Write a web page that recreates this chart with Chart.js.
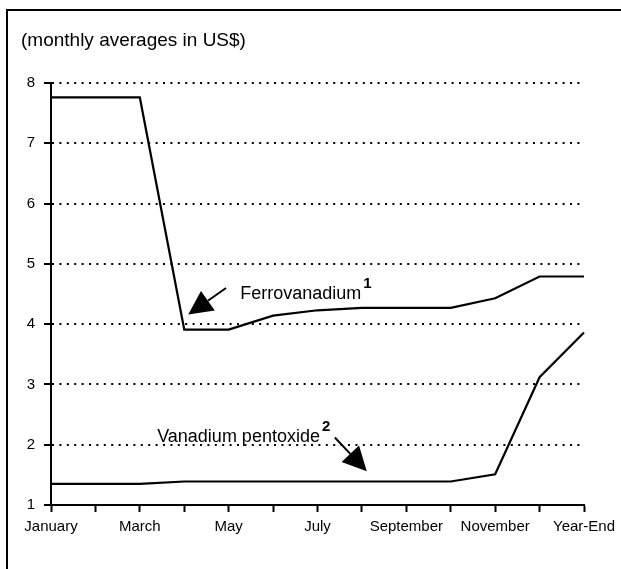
<!DOCTYPE html>
<html>
<head>
<meta charset="utf-8">
<script src="https://cdn.jsdelivr.net/npm/chart.js@4"></script>
<style>
  html, body { margin: 0; padding: 0; background: #fff; overflow: hidden; }
  #marco { position: absolute; left: 6px; top: 9px; width: 700px; height: 700px; border: 2px solid #000; }
  #grafica { position: absolute; left: 0; top: 0; }
</style>
</head>
<body>
<div id="marco"></div>
<canvas id="grafica" width="621" height="569"></canvas>
<script>
// Meses (se muestra solo uno de cada dos)
const meses = ['January', 'February', 'March', 'April', 'May', 'June', 'July',
  'August', 'September', 'October', 'November', 'December', 'Year-End'];

// Precios promedio mensuales en US$
const ferrovanadio = [7.76, 7.76, 7.76, 3.91, 3.91, 4.14, 4.23, 4.27, 4.27, 4.27, 4.43, 4.79, 4.79];
const pentoxido = [1.35, 1.35, 1.35, 1.39, 1.39, 1.39, 1.39, 1.39, 1.39, 1.39, 1.51, 3.12, 3.86];

const ticksY = [1, 2, 3, 4, 5, 6, 7, 8];

const fuente = '"Liberation Sans", Arial, sans-serif';

// Etiquetas con flecha, ancladas en coordenadas de datos
const notas = [
  { texto: 'Ferrovanadium', sup: '1', x: 4.26, y: 4.42, desde: [3.94, 4.60], hasta: [3.09, 4.16] },
  { texto: 'Vanadium pentoxide', sup: '2', x: 2.39, y: 2.04, desde: [6.39, 2.12], hasta: [7.11, 1.56] }
];

function flecha(ctx, x1, y1, x2, y2) {
  const ang = Math.atan2(y2 - y1, x2 - x1);
  const largo = 24, ancho = 12;
  const bx = x2 - largo * Math.cos(ang);
  const by = y2 - largo * Math.sin(ang);
  ctx.beginPath();
  ctx.moveTo(x1, y1);
  ctx.lineTo(bx, by);
  ctx.lineWidth = 2;
  ctx.stroke();
  ctx.beginPath();
  ctx.moveTo(x2, y2);
  ctx.lineTo(bx + ancho * Math.sin(ang), by - ancho * Math.cos(ang));
  ctx.lineTo(bx - ancho * Math.sin(ang), by + ancho * Math.cos(ang));
  ctx.closePath();
  ctx.fill();
}

const pluginNotas = {
  id: 'notas',
  afterDatasetsDraw(chart) {
    const ctx = chart.ctx;
    const sx = chart.scales.x;
    const sy = chart.scales.y;
    ctx.save();
    ctx.fillStyle = '#000';
    ctx.strokeStyle = '#000';
    // titulo
    ctx.font = '19px ' + fuente;
    ctx.textAlign = 'left';
    ctx.textBaseline = 'alphabetic';
    ctx.fillText('(monthly averages in US$)', 21, 46);

    notas.forEach(n => {
      const px = sx.getPixelForValue(n.x);
      const py = sy.getPixelForValue(n.y);
      ctx.font = '18px ' + fuente;
      ctx.fillText(n.texto, px, py);
      const w = ctx.measureText(n.texto).width;
      ctx.font = 'bold 15px ' + fuente;
      ctx.fillText(n.sup, px + w + 2, py - 11);
      flecha(ctx,
        sx.getPixelForValue(n.desde[0]), sy.getPixelForValue(n.desde[1]),
        sx.getPixelForValue(n.hasta[0]), sy.getPixelForValue(n.hasta[1]));
    });
    ctx.restore();
  }
};

const ctx = document.getElementById('grafica').getContext('2d');
new Chart(ctx, {
  type: 'line',
  data: {
    labels: meses,
    datasets: [{
      label: 'Ferrovanadium',
      data: ferrovanadio,
      borderColor: '#000',
      borderWidth: 2.2,
      pointRadius: 0,
      tension: 0,
      fill: false
    }, {
      label: 'Vanadium pentoxide',
      data: pentoxido,
      borderColor: '#000',
      borderWidth: 2.2,
      pointRadius: 0,
      tension: 0,
      fill: false
    }]
  },
  options: {
    responsive: false,
    animation: false,
    events: [],
    layout: { padding: { left: 0, right: 37, top: 83, bottom: 0 } },
    plugins: {
      legend: { display: false },
      tooltip: { enabled: false }
    },
    scales: {
      x: {
        type: 'category',
        offset: false,
        afterFit: (scale) => { scale.height = 64; },
        grid: {
          drawOnChartArea: false,
          drawTicks: true,
          tickLength: 7,
          tickWidth: 2,
          tickColor: '#000',
          color: '#000'
        },
        border: { display: true, color: '#000', width: 2 },
        ticks: {
          autoSkip: false,
          maxRotation: 0,
          padding: 6,
          color: '#000',
          font: { family: fuente, size: 15 },
          callback: function(valor, i) { return i % 2 === 0 ? meses[i] : ''; }
        }
      },
      y: {
        min: 1,
        max: 8,
        afterFit: (scale) => { scale.width = 51; },
        afterBuildTicks: (scale) => { scale.ticks = ticksY.map(v => ({ value: v })); },
        grid: {
          color: '#000',
          lineWidth: 2,
          drawTicks: true,
          tickLength: 7,
          tickWidth: 2,
          tickColor: '#000',
          tickBorderDash: []
        },
        border: { display: true, color: '#000', width: 2, dash: [2, 5.4] },
        ticks: {
          padding: 9,
          color: '#000',
          font: { family: fuente, size: 15 }
        }
      }
    }
  },
  plugins: [pluginNotas]
});
</script>
</body>
</html>
